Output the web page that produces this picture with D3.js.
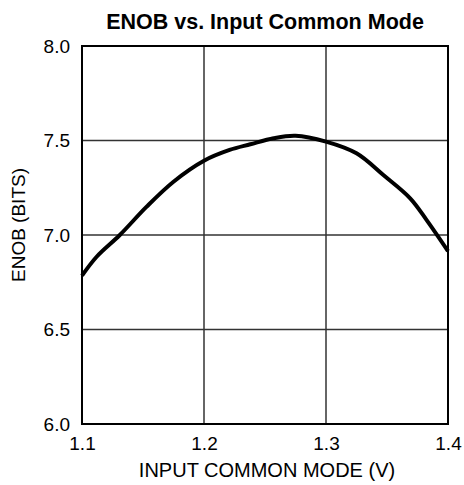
<!DOCTYPE html>
<html>
<head>
<meta charset="utf-8">
<script src="https://cdn.jsdelivr.net/npm/d3@7"></script>
<style>
  html, body { margin: 0; padding: 0; background: #fff; overflow: hidden; }
  svg { display: block; }
  text { font-family: "Liberation Sans", Arial, sans-serif; fill: #000; }
</style>
</head>
<body>
<div id="chart"></div>
<script>
// values
var inputCM = [1.1, 1.112, 1.131, 1.153, 1.175, 1.2, 1.221, 1.238, 1.257, 1.275, 1.3, 1.325, 1.347, 1.369, 1.3825, 1.4];
var enob    = [6.785, 6.885, 7.0, 7.15, 7.282, 7.393, 7.45, 7.48, 7.512, 7.525, 7.494, 7.432, 7.317, 7.194, 7.079, 6.915];
var xTicks = [1.1, 1.2, 1.3, 1.4];
var yTicks = [6.0, 6.5, 7.0, 7.5, 8.0];

var width = 464, height = 485;
var margin = {top: 46, right: 16, bottom: 61, left: 82};
var innerWidth = width - margin.left - margin.right,
    innerHeight = height - margin.top - margin.bottom;

var svg = d3.select("#chart").append("svg")
  .attr("width", width)
  .attr("height", height);

var g = svg.append("g")
  .attr("transform", "translate(" + margin.left + "," + margin.top + ")");

var xScale = d3.scaleLinear().domain([1.1, 1.4]).range([0, innerWidth]);
var yScale = d3.scaleLinear().domain([6.0, 8.0]).range([innerHeight, 0]);

// grid lines
g.append("g")
  .selectAll("line.vgrid")
  .data(xTicks)
  .enter().append("line")
    .attr("x1", d => xScale(d)).attr("x2", d => xScale(d))
    .attr("y1", 0).attr("y2", innerHeight)
    .style("stroke", "#333").style("stroke-width", 1.5);

g.append("g")
  .selectAll("line.hgrid")
  .data(yTicks)
  .enter().append("line")
    .attr("x1", 0).attr("x2", innerWidth)
    .attr("y1", d => yScale(d)).attr("y2", d => yScale(d))
    .style("stroke", "#333").style("stroke-width", 1.5);

// axes (labels only)
var xAxis = d3.axisBottom(xScale).tickValues(xTicks).tickSize(0).tickPadding(13).tickFormat(d3.format(".1f"));
var yAxis = d3.axisLeft(yScale).tickValues(yTicks).tickSize(0).tickPadding(12).tickFormat(d3.format(".1f"));

var xa = g.append("g").attr("transform", `translate(0, ${innerHeight})`).call(xAxis);
var ya = g.append("g").call(yAxis);
[xa, ya].forEach(a => {
  a.select(".domain").remove();
  a.selectAll("text").style("font-size", "19px").style("font-family", "Liberation Sans, Arial, sans-serif");
});

// frame
g.append("rect")
  .attr("width", innerWidth).attr("height", innerHeight)
  .style("fill", "none").style("stroke", "#000").style("stroke-width", 2);

// curve
var pts = inputCM.map((v, i) => [v, enob[i]]);
var line = d3.line()
  .x(d => xScale(d[0]))
  .y(d => yScale(d[1]))
  .curve(d3.curveCatmullRom.alpha(0.5));

g.append("path")
  .attr("d", line(pts))
  .style("fill", "none")
  .style("stroke", "#000")
  .style("stroke-width", 4)
  .style("stroke-linejoin", "round");

// titles
svg.append("text")
  .attr("x", 265).attr("y", 29)
  .attr("text-anchor", "middle")
  .style("font-size", "21.5px").style("font-weight", "bold")
  .text("ENOB vs. Input Common Mode");

svg.append("text")
  .attr("x", 267).attr("y", 477)
  .attr("text-anchor", "middle")
  .style("font-size", "20px")
  .text("INPUT COMMON MODE (V)");

svg.append("text")
  .attr("transform", "translate(25, 225) rotate(-90)")
  .attr("text-anchor", "middle")
  .style("font-size", "19px")
  .text("ENOB (BITS)");
</script>
</body>
</html>
